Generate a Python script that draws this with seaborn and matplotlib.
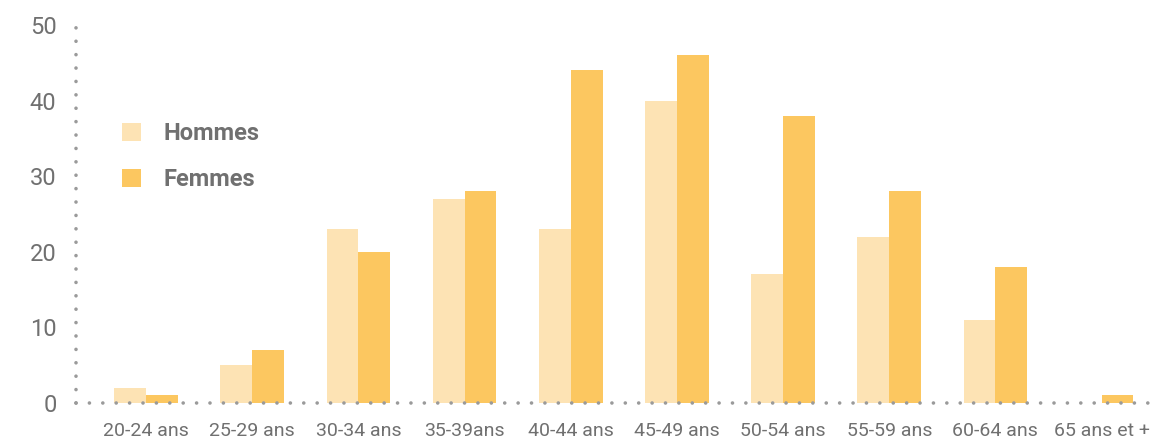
import pandas as pd
import matplotlib.pyplot as plt
import seaborn as sns

categories = ['20-24 ans', '25-29 ans', '30-34 ans', '35-39ans', '40-44 ans',
              '45-49 ans', '50-54 ans', '55-59 ans', '60-64 ans', '65 ans et +']
hommes = [2, 5, 23, 27, 23, 40, 17, 22, 11, 0]
femmes = [1, 7, 20, 28, 44, 46, 38, 28, 18, 1]
yticks = [0, 10, 20, 30, 40, 50]

df = pd.DataFrame({
    'age': categories * 2,
    'valeur': hommes + femmes,
    'sexe': ['Hommes'] * len(categories) + ['Femmes'] * len(categories),
})

sns.set_style('white')
plt.rcParams['font.family'] = ['Roboto', 'DejaVu Sans']
grey = '#707070'

fig = plt.figure(figsize=(11.73, 4.46), dpi=100)
ax = fig.add_axes([76 / 1173, 43 / 446, (1160 - 76) / 1173, 378 / 446])
sns.barplot(data=df, x='age', y='valeur', hue='sexe', width=0.6,
            palette={'Hommes': '#FDE3B4', 'Femmes': '#FCC760'},
            saturation=1, linewidth=0, ax=ax, legend=True)

ax.set_ylim(0, 50)
ax.set_xlim(-0.66, 9.55)
ax.set_yticks(yticks)
ax.set_xlabel('')
ax.set_ylabel('')
for s in ['top', 'right']:
    ax.spines[s].set_visible(False)
for s in ['left', 'bottom']:
    ax.spines[s].set_color('#9a9a9a')
    ax.spines[s].set_linewidth(2.6)
    ax.spines[s].set_linestyle((0, (0.01, 3.7)))
    ax.spines[s].set_capstyle('round')
ax.spines['bottom'].set_zorder(5)
ax.tick_params(axis='y', length=0, pad=14, labelsize=17, labelcolor=grey)
ax.tick_params(axis='x', length=0, pad=14, labelsize=14, labelcolor=grey)

leg = ax.legend(loc='upper left', bbox_to_anchor=(0.023, 0.80), frameon=False,
                handlelength=0.8, handleheight=0.8, handletextpad=0.95,
                labelspacing=1.0, prop={'size': 17, 'weight': 'bold'})
for t in leg.get_texts():
    t.set_color(grey)

plt.savefig('out.png', dpi=100)
